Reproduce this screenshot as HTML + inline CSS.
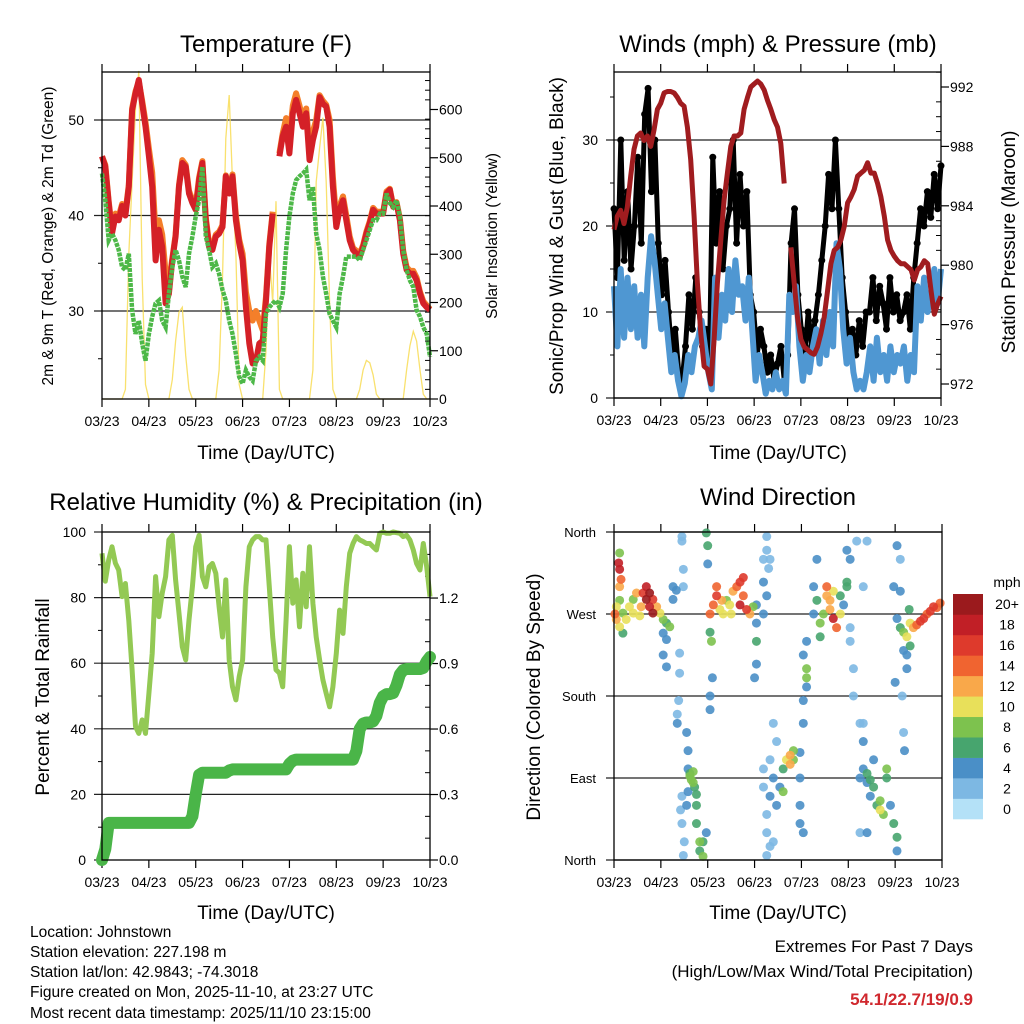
<!DOCTYPE html>
<html><head><meta charset="utf-8"><style>
html,body{margin:0;padding:0;background:#fff;}
svg{display:block;font-family:"Liberation Sans",Arial,sans-serif;}
</style></head><body>
<svg id="chart" width="1024" height="1024" viewBox="0 0 1024 1024" xmlns="http://www.w3.org/2000/svg">
<rect width="1024" height="1024" fill="#fff"/>
<g id="layer"></g>
<text x="266" y="52" font-size="24" text-anchor="middle">Temperature (F)</text>
<text x="778" y="52" font-size="24" text-anchor="middle">Winds (mph) &amp; Pressure (mb)</text>
<text x="266" y="510" font-size="24" text-anchor="middle">Relative Humidity (%) &amp; Precipitation (in)</text>
<text x="778" y="505" font-size="24" text-anchor="middle">Wind Direction</text>
<text transform="translate(53,236) rotate(-90)" font-size="15.5" text-anchor="middle">2m &amp; 9m T (Red, Orange) &amp; 2m Td (Green)</text>
<text transform="translate(497,236) rotate(-90)" font-size="15.5" text-anchor="middle">Solar Insolation (Yellow)</text>
<text transform="translate(563,236) rotate(-90)" font-size="19" text-anchor="middle">Sonic/Prop Wind &amp; Gust (Blue, Black)</text>
<text transform="translate(1015,242) rotate(-90)" font-size="19" text-anchor="middle">Station Pressure (Maroon)</text>
<text transform="translate(49,697) rotate(-90)" font-size="19" text-anchor="middle">Percent &amp; Total Rainfall</text>
<text transform="translate(540,697) rotate(-90)" font-size="19" text-anchor="middle">Direction (Colored By Speed)</text>
<text x="266" y="459" font-size="19" text-anchor="middle">Time (Day/UTC)</text>
<text x="778" y="459" font-size="19" text-anchor="middle">Time (Day/UTC)</text>
<text x="266" y="919" font-size="19" text-anchor="middle">Time (Day/UTC)</text>
<text x="778" y="919" font-size="19" text-anchor="middle">Time (Day/UTC)</text>
<g font-size="15.5">
<text x="30" y="937">Location: Johnstown</text>
<text x="30" y="957">Station elevation: 227.198 m</text>
<text x="30" y="977">Station lat/lon: 42.9843; -74.3018</text>
<text x="30" y="997">Figure created on Mon, 2025-11-10, at 23:27 UTC</text>
<text x="30" y="1018">Most recent data timestamp: 2025/11/10 23:15:00</text>
</g>
<g text-anchor="end">
<text x="973" y="952" font-size="17">Extremes For Past 7 Days</text>
<text x="973" y="977" font-size="17">(High/Low/Max Wind/Total Precipitation)</text>
<text x="973" y="1005" font-size="17" font-weight="bold" fill="#d0282e">54.1/22.7/19/0.9</text>
</g>
</svg>
<script>
// ---- Temperature panel data (uniform time steps over 7 days) ----
const tempRed=[46.2,45.1,41.3,38.1,39.9,39.5,41,40,43,51,52.8,54.2,51.7,49.3,46.2,43,35.3,38.5,36.7,30.8,31.8,35.3,37.8,43,45.5,45.1,42.3,41.3,40.6,43.7,45.5,39.5,36.7,36.4,37.8,38.1,38.8,44.1,42.3,44.1,39.5,37.1,35.3,30.4,26.6,24.5,24.8,26.6,26.9,31.1,36.7,40.2,null,46.2,48.3,49.3,46.5,50.7,52.1,50.7,49.3,50.7,45.8,47.9,49.3,52.4,51.7,51.4,49.3,43,38.8,40.6,41.6,39.5,37.4,36.4,36,35.7,36.7,38.1,39.2,40.6,40.2,40.2,40.2,42.3,42.7,40.9,41.3,39.5,36,34.3,33.9,33.9,33.2,31.8,30.8,30.4,30.1];
const tempOrange=[46.2,45.3,41.5,38.5,40.2,39.9,41.2,40.3,43.2,51.2,53,54,52,49.8,47,44.5,38,39.5,38,34,33,35.5,38,43.2,45.8,45.3,42.6,41.6,41,44,45.7,39.8,37,36.8,38,38.3,39,44.2,42.6,44.3,40,37.5,36,32,30,29,30,29,28,31.5,37,40.4,null,46.5,48.6,50.2,48,51.5,52.8,51.5,50,51.2,47,48.8,50,52.6,52,51.6,50,44,39.5,41,42,40,37.8,36.6,36.3,36,36.9,38.3,39.4,40.8,40.4,40.4,40.3,42.5,42.8,41,41.4,39.7,36.3,34.6,34.2,34.2,33.5,32,31,30.6,30.2];
const tempDew=[44.4,41.6,37.4,38.1,37.4,36.4,34.6,34.3,36,30.1,27.6,29,26.6,24.8,27.6,29.4,30.8,31.1,29,28.3,31.8,34.6,36.4,35.3,33.6,32.5,36,37.8,39.9,41.6,45.1,37.8,36.4,34.6,35,33.9,32.2,31.1,29,27.6,25.5,23.1,22.4,23.8,23.1,22.7,24.8,25.2,24.8,29.7,30.4,30.8,31.1,30.4,31.8,36.4,39.9,42.3,43.7,44.1,44.4,44.8,41.6,43,38.1,36.4,33.6,31.8,29.7,29,28.3,31.8,33.6,35.7,35.7,35.7,35.7,35.3,36.4,37.4,38.5,39.5,39.5,40.2,40.2,42.3,41.3,40.9,41.6,39.9,36.4,34.3,33.2,32.5,30.1,29.4,28.3,27.6,25.2];
const solar=[0,0,0,0,0,0,0,20,300,450,600,680,250,30,0,0,0,0,0,0,0,40,120,180,190,90,20,0,0,0,0,0,0,0,0,60,250,540,630,450,300,30,0,0,0,0,0,0,0,100,300,200,410,20,0,0,0,0,0,0,0,0,0,60,450,520,583,450,200,20,0,0,0,0,0,0,0,20,60,80,75,50,10,0,0,0,0,0,0,0,0,60,110,140,120,60,10,0,0];
const tempTicks=[30,40,50];
const solarTicks=[0,100,200,300,400,500,600];
const dayLabels=["03/23","04/23","05/23","06/23","07/23","08/23","09/23","10/23"];
// ---- Winds panel data ----
const windSpeed=[13,6,15,7,14,8,13,7,12,6,14,18.8,16,12,8,11,7,3,5,2,0.2,1.7,5,3,6,7,9,6,3,1,14,7,12,9,15,10,16,12,13,9,14,8,2,5,3,0.5,2,1,3,1,2,0.5,12,10,13,6,2,5,3,6,8,4,9,5,10,6,18,15,8,4,7,3,1,2,1,3,6,2,7,3,5,2,6,3,5,4,6,2,5,3,13,9,14,10,12,15,11,15];
const windGust=[22,14,30,16,24,15,20,28,18,33,36,24,30,18,12,16,10,5,8,3,2,6,12,8,14,10,6,8,4,28,18,24,15,20,22,30,18,26,20,24,12,10,5,8,6,3,5,2,4,6,2,5,18,22,12,8,5,10,6,9,12,16,20,26,22,30,22,14,10,6,8,5,9,6,10,10,14,9,13,11,8,14,10,12,9,10,12,8,14,18,22,20,24,21,26,22,27];
const pressure=[982.4,983.3,983.7,982.8,983.9,986,987.8,988.7,988.9,988.4,988.7,988,989.1,990.5,990.9,991.6,991.7,991.7,991.6,991.3,990.9,990.7,989.3,987.1,983.3,978.8,975.4,973.2,973,972,975,978.8,981.7,984.4,986.2,988,988.7,988.7,988.9,990.5,991.3,992,992.2,992.4,992.2,991.8,991.1,990.5,989.8,989.3,988.2,985.5,null,981.2,978.8,976.5,975,974.5,974.3,974.1,974,974.5,975.4,976.5,978.3,980.1,981,981.2,981.7,982.6,984.2,984.6,985.1,986,986.2,986.4,986.9,986.2,986.2,985.5,984.6,983.3,981.7,981,980.6,980.3,980.1,980.1,979.9,979.7,979,979.7,979.9,980.3,980.1,978.3,976.7,977.4,977.9];
const windTicks=[0,10,20,30];
const pressTicks=[972,976,980,984,988,992];
// ---- RH / precip data ----
const rh=[93.5,85,91.5,95.5,90.5,88.4,80.3,84.3,73,58,40.7,38.6,42.7,38.6,50.8,63,86.4,74.2,81.3,86.4,97.6,99,85.4,75.2,65,61,73.2,83.3,95.5,99,86.4,83.3,89.4,90.4,87.4,77.2,68,85.4,61,52.8,48.8,55.9,61,83.3,95.5,97.6,98.6,98.6,97.6,97.6,83.3,68,58,57,52.8,73.2,95.5,78.3,85.4,71.1,87.4,77.2,95.5,78.3,68,61,54.9,50.8,46.7,52.8,63,76.2,69.1,83.3,93.5,96.5,98.6,97.6,97.1,96.5,96.5,95.5,94.5,99.6,100,99.6,99.6,100,99.8,99.6,98.6,99,97.6,94.5,90.4,88.4,96.5,89.4,80.3];
const precip=[0,0.05,0.17,0.17,0.17,0.17,0.17,0.17,0.17,0.17,0.17,0.17,0.17,0.17,0.17,0.17,0.17,0.17,0.17,0.17,0.17,0.17,0.17,0.17,0.17,0.17,0.17,0.2,0.3,0.39,0.4,0.4,0.4,0.4,0.4,0.4,0.4,0.4,0.41,0.415,0.415,0.415,0.415,0.415,0.415,0.415,0.415,0.415,0.415,0.415,0.415,0.415,0.415,0.415,0.415,0.415,0.44,0.455,0.46,0.46,0.46,0.46,0.46,0.46,0.46,0.46,0.46,0.46,0.46,0.46,0.46,0.46,0.46,0.46,0.46,0.46,0.5,0.6,0.625,0.63,0.63,0.635,0.66,0.72,0.75,0.76,0.76,0.765,0.8,0.85,0.87,0.875,0.875,0.875,0.875,0.875,0.88,0.91,0.93];
const rhTicks=[0,20,40,60,80,100];
const precipTicks=[0,0.3,0.6,0.9,1.2];
// ---- Wind direction scatter: time (days), direction (deg), speed (mph) ----
const dirTime=[0.02,0.05,0.05,0.12,0.12,0.19,0.12,0.12,0.1,0.15,0.12,0.19,0.26,0.33,0.41,0.48,0.41,0.55,0.58,0.62,0.69,0.69,0.76,0.76,0.83,0.83,0.91,0.98,1.05,1.12,1.05,1.12,1.05,1.12,1.19,1.26,1.33,1.26,1.45,1.45,1.48,1.48,1.40,1.40,1.38,1.35,1.35,1.55,1.58,1.58,1.45,1.42,1.45,1.50,1.48,1.55,1.58,1.62,1.65,1.69,1.62,1.69,1.72,1.76,1.76,1.76,1.83,1.83,1.90,1.90,1.97,1.97,2.0,2.0,2.05,2.05,2.08,2.1,2.05,2.05,2.12,2.19,2.19,2.26,2.33,2.40,2.47,2.54,2.62,2.69,2.69,2.76,2.83,2.76,2.90,2.97,2.5,2.3,3.04,3.04,3.04,3.0,3.04,3.19,3.26,3.26,3.33,3.30,3.19,3.26,3.19,3.19,3.19,3.26,3.26,3.33,3.26,3.33,3.40,3.47,3.54,3.47,3.40,3.33,3.40,3.61,3.61,3.68,3.76,3.76,3.83,3.83,3.97,3.97,3.97,3.97,4.04,4.04,4.11,4.11,4.11,4.04,4.04,4.11,4.33,4.26,4.33,4.26,4.40,4.40,4.47,4.54,4.54,4.61,4.68,4.75,4.61,4.83,4.68,4.83,4.90,4.97,4.97,5.04,5.04,5.11,5.11,5.04,4.97,5.18,5.40,5.32,5.25,5.32,5.32,5.32,5.25,5.40,5.40,5.47,5.47,5.54,5.54,5.61,5.68,5.68,5.75,5.82,5.82,5.90,5.97,6.04,6.04,5.40,5.25,6.04,6.11,5.97,6.11,6.04,6.11,6.18,6.25,6.32,6.18,6.25,6.32,6.39,6.46,6.54,6.61,6.68,6.75,6.82,6.89,6.96,6.30,6.15,6.18,6.0,6.20,6.25];
const dirDeg=[270,278,264,256,285,249,300,319,326,308,337,271,264,278,286,293,271,268,278,293,300,286,278,293,271,286,278,271,264,260,249,242,225,212,256,286,296,300,355,350,319,300,227,205,175,160,150,140,120,100,70,55,40,20,5,60,75,92,88,85,95,97,80,72,60,40,20,10,4,20,30,359,345,325,270,250,240,200,180,165,280,290,300,275,270,285,280,295,300,305,280,290,275,310,270,278,270,285,260,240,215,200,280,330,355,340,330,320,305,290,270,100,80,50,30,15,5,70,90,60,80,130,150,110,20,100,75,110,105,115,110,120,118,90,60,40,30,225,210,200,190,175,150,240,330,300,285,270,260,245,270,290,300,285,265,255,275,270,295,290,280,300,340,330,240,210,180,255,305,350,350,300,150,150,130,100,90,95,85,88,70,110,80,60,55,65,50,100,90,60,40,25,10,30,30,345,330,300,295,265,255,250,245,260,230,225,235,255,258,262,265,270,273,278,277,282,275,180,140,195,120,210];
const dirSpeed=[14,10,11,9,7,6,12,17,18,14,7,8,9,9,8,11,10,9,12,16,18,19,17,20,19,15,12,9,8,6,4,4,4,3,7,4,4,3,1,1,1,2,1,1,1,2,3,4,4,4,1,1,1,2,2,4,3,7,8,7,6,8,6,6,6,6,7,6,7,5,4,6,6,4,14,6,7,4,4,3,14,16,14,10,9,8,10,12,14,16,17,13,15,15,11,8,10,11,4,5,3,3,4,2,2,2,2,2,3,3,3,2,2,2,2,1,2,3,3,3,4,2,2,1,2,6,7,10,11,12,8,7,4,4,4,4,3,4,7,7,4,4,4,4,4,4,5,4,7,6,8,12,13,11,18,14,12,9,10,6,4,5,4,4,2,2,2,2,6,2,2,2,2,2,3,4,4,5,4,6,4,4,6,6,9,7,7,7,6,4,6,6,4,3,1,4,2,3,4,4,6,8,10,9,4,4,6,12,14,16,15,14,15,15,14,13,6,1,2,4,3,4];
const dirTicks=[0,90,180,270,360];
const dirLabels=["North","East","South","West","North"];
const speedBins=[0,2,4,6,8,10,12,14,16,18,20];
const speedColors=["#b4e1f7","#7db8e3","#4a8fc7","#47a56e","#7dc24e","#e8e05a","#f9a84a","#f06430","#de3a2c","#c11f26","#9b1a1d"];
const speedLabels=["0","2","4","6","8","10","12","14","16","18","20+"];

const NS="http://www.w3.org/2000/svg";
const layer=document.getElementById('layer');
function mk(tag,attrs,parent){const e=document.createElementNS(NS,tag);for(const k in attrs)e.setAttribute(k,attrs[k]);(parent||layer).appendChild(e);return e;}
function linePath(arr,xf,yf){let d="",pen=false;arr.forEach((v,i)=>{if(v===null){pen=false;return;}d+=(pen?"L":"M")+xf(i).toFixed(1)+" "+yf(v).toFixed(1)+" ";pen=true;});return d;}
function idxX(x0,x1,n){return i=>x0+(i/(n-1))*(x1-x0);}
function dayX(x0,x1){return d=>x0+d/7*(x1-x0);}

function frame(name,x0,x1,y0,y1){
  const g=mk('g',{});
  
  
  const dx=dayX(x0,x1);
  for(let d=0;d<=7;d++){
    const x=dx(d);
    mk('line',{x1:x,x2:x,y1:y1,y2:y1+8,stroke:'#000','stroke-width':1.2},g);
    mk('line',{x1:x,x2:x,y1:y0,y2:y0-8,stroke:'#000','stroke-width':1.2},g);
    const t=mk('text',{x:x,y:y1+27,'font-size':14,'text-anchor':'middle'},g);
    t.textContent=dayLabels[d];
    
    
  }
  return g;
}
function border(x0,x1,y0,y1){mk('rect',{x:x0,y:y0,width:x1-x0,height:y1-y0,fill:'none',stroke:'#000','stroke-width':1.3});}

// ===== Panel 1: Temperature =====
(function(){
  const x0=102,x1=430,y0=72,y1=399;
  const yT=v=>311-(v-30)*9.55, yS=v=>399-v*0.4825;
  const g=frame('temperature',x0,x1,y0,y1);
  tempTicks.forEach(v=>{const y=yT(v);
    mk('line',{x1:x0-8,x2:x1,y1:y,y2:y,stroke:'#222','stroke-width':1.2},g);
    const t=mk('text',{x:84,y:y+5,'font-size':14,'text-anchor':'end'},g);t.textContent=v;});
  [25,35,45].forEach(v=>mk('line',{x1:x0-4,x2:x0,y1:yT(v),y2:yT(v),stroke:'#000'},g));
  solarTicks.forEach(v=>{const y=yS(v);
    mk('line',{x1:x1,x2:x1+8,y1:y,y2:y,stroke:'#000','stroke-width':1.2},g);
    const t=mk('text',{x:439,y:y+5,'font-size':14},g);t.textContent=v;});
  for(let v=20;v<=660;v+=20){if(v%100)mk('line',{x1:x1-5,x2:x1,y1:yS(v),y2:yS(v),stroke:'#000'},g);}
  const xs=idxX(x0,x1,solar.length);
  const s=mk('path',{d:linePath(solar,xs,yS),fill:'none',stroke:'#f8dc55','stroke-width':1.3,opacity:0.85});
  
  
  const o=mk('path',{d:linePath(tempOrange,idxX(x0,x1,tempOrange.length),yT),fill:'none',stroke:'#f47f2a','stroke-width':6,'stroke-linejoin':'round'});
  
  
  const r=mk('path',{d:linePath(tempRed,idxX(x0,x1,tempRed.length),yT),fill:'none',stroke:'#d42027','stroke-width':6,'stroke-linejoin':'round'});
  
  
  const gd=mk('path',{d:linePath(tempDew,idxX(x0,x1,tempDew.length),yT),fill:'none',stroke:'#4db848','stroke-width':4.5,'stroke-dasharray':'4 1'});
  
  
  border(x0,x1,y0,y1);
})();

// ===== Panel 2: Winds & Pressure =====
(function(){
  const x0=614,x1=941,y0=72,y1=398;
  const yW=v=>398-v*8.6, yP=v=>87+(992-v)*14.85;
  const g=frame('winds',x0,x1,y0,y1);
  windTicks.forEach(v=>{const y=yW(v);
    mk('line',{x1:x0-8,x2:x1,y1:y,y2:y,stroke:'#222','stroke-width':1.2},g);
    const t=mk('text',{x:598,y:y+5,'font-size':14,'text-anchor':'end'},g);t.textContent=v;});
  [5,15,25,35].forEach(v=>mk('line',{x1:x0-4,x2:x0,y1:yW(v),y2:yW(v),stroke:'#000'},g));
  pressTicks.forEach(v=>{const y=yP(v);
    mk('line',{x1:x1,x2:x1+8,y1:y,y2:y,stroke:'#000','stroke-width':1.2},g);
    const t=mk('text',{x:950,y:y+5,'font-size':14},g);t.textContent=v;});
  for(let v=971;v<=994;v++){if(v%4){const y=yP(v);if(y>y0&&y<y1)mk('line',{x1:x1-5,x2:x1,y1:y,y2:y,stroke:'#000'},g);}}
  const xg=idxX(x0,x1,windGust.length);
  const gp=mk('path',{d:linePath(windGust,xg,yW),fill:'none',stroke:'#000','stroke-width':5,'stroke-linejoin':'round'});
  
  
  windGust.forEach((v,i)=>{const c=mk('circle',{cx:xg(i),cy:yW(v),r:3.5,fill:'#000'});
    
    });
  const b=mk('path',{d:linePath(windSpeed,idxX(x0,x1,windSpeed.length),yW),fill:'none',stroke:'#4f97d2','stroke-width':6,'stroke-linejoin':'round'});
  
  
  const p=mk('path',{d:linePath(pressure,idxX(x0,x1,pressure.length),yP),fill:'none',stroke:'#a01c1f','stroke-width':5,'stroke-linejoin':'round'});
  
  
  border(x0,x1,y0,y1);
})();

// ===== Panel 3: RH & Precip =====
(function(){
  const x0=102,x1=430,y0=532,y1=860;
  const yR=v=>860-v*3.28, yPr=v=>860-v*218.3;
  const g=frame('humidity',x0,x1,y0,y1);
  rhTicks.forEach(v=>{const y=yR(v);
    mk('line',{x1:x0-8,x2:(v>0&&v<100)?x1:x0,y1:y,y2:y,stroke:'#222','stroke-width':1.2},g);
    const t=mk('text',{x:86,y:y+5,'font-size':14,'text-anchor':'end'},g);t.textContent=v;});
  [10,30,50,70,90].forEach(v=>mk('line',{x1:x0-4,x2:x0,y1:yR(v),y2:yR(v),stroke:'#000'},g));
  precipTicks.forEach(v=>{const y=yPr(v);
    mk('line',{x1:x1,x2:x1+8,y1:y,y2:y,stroke:'#000','stroke-width':1.2},g);
    const t=mk('text',{x:439,y:y+5,'font-size':14},g);t.textContent=v.toFixed(1);});
  for(let k=1;k<15;k++){if(k%3){const y=yPr(k/10);mk('line',{x1:x1-5,x2:x1,y1:y,y2:y,stroke:'#000'},g);}}
  const rl=mk('path',{d:linePath(rh,idxX(x0,x1,rh.length),yR),fill:'none',stroke:'#93c954','stroke-width':5,'stroke-linejoin':'round'});
  
  
  const pl=mk('path',{d:linePath(precip,idxX(x0,x1,precip.length),yPr),fill:'none',stroke:'#4ab548','stroke-width':12,'stroke-linejoin':'round','stroke-linecap':'round'});
  
  
  border(x0,x1,y0,y1);
})();

// ===== Panel 4: Wind direction =====
(function(){
  const x0=614,x1=942,y0=532,y1=860;
  const yD=v=>860-v*(328/360), xd=dayX(x0,x1);
  const g=frame('wind-direction',x0,x1,y0,y1);
  dirTicks.forEach((v,i)=>{const y=yD(v);
    mk('line',{x1:x0-8,x2:x1,y1:y,y2:y,stroke:'#222','stroke-width':1.2},g);
    const t=mk('text',{x:596,y:y+5,'font-size':13,'text-anchor':'end'},g);t.textContent=dirLabels[i];});
  function col(s){let k=0;for(let j=0;j<speedBins.length;j++)if(s>=speedBins[j]-1)k=j;return speedColors[k];}
  const idx=dirTime.map((_,i)=>i).sort((a,b)=>dirSpeed[a]-dirSpeed[b]);
  idx.forEach(i=>{const c=mk('circle',{cx:xd(dirTime[i]),cy:yD(dirDeg[i]),r:4.5,fill:col(dirSpeed[i]),opacity:0.9});
    
    });
  border(x0,x1,y0,y1);
  const cb=mk('g',{});
  
  
  const h=225/11;
  speedColors.forEach((c,i)=>{const y=594+(10-i)*h;
    mk('rect',{x:953,y:y,width:30,height:h+0.3,fill:c},cb);
    const t=mk('text',{x:1007,y:y+h/2+5,'font-size':14,'text-anchor':'middle'},cb);t.textContent=speedLabels[i];});
  const m=mk('text',{x:1007,y:587,'font-size':14,'text-anchor':'middle'},cb);m.textContent='mph';
})();
</script>
</body></html>
